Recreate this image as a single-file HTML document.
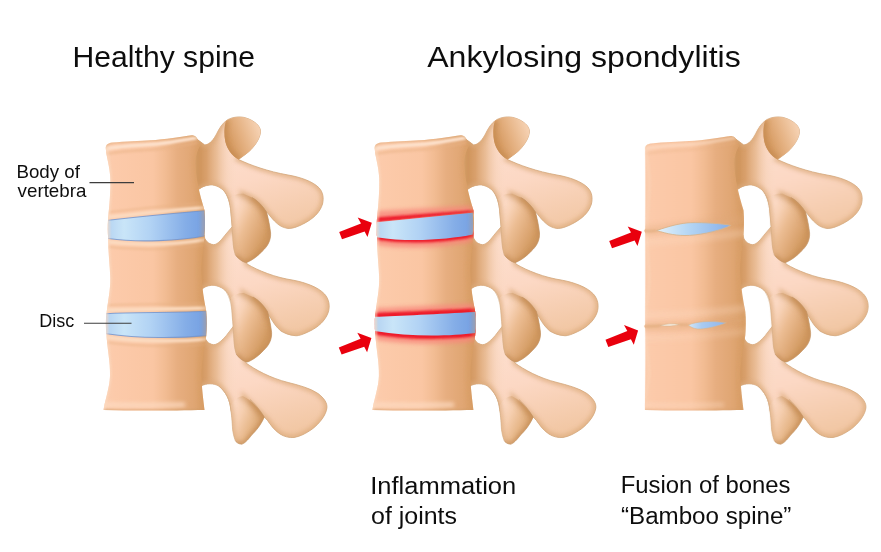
<!DOCTYPE html>
<html lang="en">
<head>
<meta charset="utf-8">
<title>Ankylosing spondylitis</title>
<style>
  html, body { margin: 0; padding: 0; background: #ffffff; }
  body { width: 881px; height: 552px; overflow: hidden; }
  svg { display: block; }
  text { font-family: "Liberation Sans", sans-serif; fill: #111111; }
</style>
</head>
<body>
<svg width="881" height="552" viewBox="0 0 881 552">
<defs>
  <!-- ===== gradients ===== -->
  <linearGradient id="gBody" gradientUnits="userSpaceOnUse" x1="104" y1="0" x2="206" y2="0">
    <stop offset="0" stop-color="#fbceb0"/>
    <stop offset="0.1" stop-color="#fccaaa"/>
    <stop offset="0.48" stop-color="#fac6a3"/>
    <stop offset="0.6" stop-color="#f2bc93"/>
    <stop offset="0.72" stop-color="#e7ae80"/>
    <stop offset="0.88" stop-color="#e0a673"/>
    <stop offset="1" stop-color="#d79c63"/>
  </linearGradient>
  <linearGradient id="gDisc" gradientUnits="userSpaceOnUse" x1="106" y1="0" x2="206" y2="0">
    <stop offset="0" stop-color="#b4d2f1"/>
    <stop offset="0.18" stop-color="#c9e5f8"/>
    <stop offset="0.45" stop-color="#b1d2f4"/>
    <stop offset="0.8" stop-color="#84ade7"/>
    <stop offset="1" stop-color="#739fe2"/>
  </linearGradient>
  <linearGradient id="gLens" gradientUnits="userSpaceOnUse" x1="117.5" y1="0" x2="192.5" y2="0">
    <stop offset="0" stop-color="#e4f2fa"/>
    <stop offset="0.4" stop-color="#b7d8f5"/>
    <stop offset="1" stop-color="#86aee8"/>
  </linearGradient>
  <linearGradient id="gTrans" gradientUnits="userSpaceOnUse" x1="250" y1="160" x2="235" y2="215">
    <stop offset="0" stop-color="#fbe0cb"/>
    <stop offset="0.5" stop-color="#f9d6bb"/>
    <stop offset="1" stop-color="#f0c096"/>
  </linearGradient>
  <linearGradient id="gLens2" gradientUnits="userSpaceOnUse" x1="149" y1="0" x2="188" y2="0">
    <stop offset="0" stop-color="#d3e7f8"/>
    <stop offset="0.35" stop-color="#a9cbf1"/>
    <stop offset="1" stop-color="#8fb4ea"/>
  </linearGradient>
  <linearGradient id="gT" x1="0.35" y1="0" x2="0.65" y2="1">
    <stop offset="0" stop-color="#fee1d2"/>
    <stop offset="0.5" stop-color="#fcd8c4"/>
    <stop offset="1" stop-color="#f1c6a2"/>
  </linearGradient>
  <linearGradient id="gKnob" gradientUnits="userSpaceOnUse" x1="226" y1="140" x2="258" y2="128">
    <stop offset="0" stop-color="#d2955a"/>
    <stop offset="0.45" stop-color="#e4b080"/>
    <stop offset="1" stop-color="#f5d0b0"/>
  </linearGradient>
  <linearGradient id="gInf" gradientUnits="userSpaceOnUse" x1="231" y1="214" x2="268" y2="232">
    <stop offset="0" stop-color="#fcdac5"/>
    <stop offset="0.18" stop-color="#f8d2b6"/>
    <stop offset="0.45" stop-color="#ecbd93"/>
    <stop offset="0.75" stop-color="#dfaa78"/>
    <stop offset="1" stop-color="#d39b62"/>
  </linearGradient>
  <linearGradient id="gInf3" gradientUnits="userSpaceOnUse" x1="231" y1="412" x2="262" y2="426">
    <stop offset="0" stop-color="#fcdac5"/>
    <stop offset="0.3" stop-color="#f6cfb0"/>
    <stop offset="0.65" stop-color="#e8b98c"/>
    <stop offset="1" stop-color="#d6a06a"/>
  </linearGradient>
  <linearGradient id="gPed" gradientUnits="userSpaceOnUse" x1="196" y1="0" x2="238" y2="0">
    <stop offset="0" stop-color="#cc9055"/>
    <stop offset="0.25" stop-color="#d9a06c"/>
    <stop offset="0.5" stop-color="#e7b88e" stop-opacity="0.85"/>
    <stop offset="0.75" stop-color="#f5d0b4" stop-opacity="0.45"/>
    <stop offset="1" stop-color="#fbdcc8" stop-opacity="0"/>
  </linearGradient>
  <filter id="soft" filterUnits="userSpaceOnUse" x="0" y="0" width="881" height="552"><feGaussianBlur stdDeviation="0.45"/></filter>
  <filter id="blur1" filterUnits="userSpaceOnUse" x="-20" y="-20" width="940" height="600"><feGaussianBlur stdDeviation="1"/></filter>
  <filter id="blur2" filterUnits="userSpaceOnUse" x="-20" y="-20" width="940" height="600"><feGaussianBlur stdDeviation="2"/></filter>
  <filter id="blur3" filterUnits="userSpaceOnUse" x="-20" y="-20" width="940" height="600"><feGaussianBlur stdDeviation="3.2"/></filter>

  <!-- ===== posterior elements (spine 1 coordinates) ===== -->
  <path id="pT1" d="M194,137 L204.8,145 C210,144.5 214,139 216.8,133.5 C219.5,128 222.5,123 227.5,119.8 C232.5,117 240,116 246,118 C254,120.5 261,126 260.5,132 C260,139 254,147 249,151.5 C245,155 241,157.5 238.5,159.5 C250,165 268,171.5 288,175 C300,177 313,181.5 319,187.8 C323,192 324,198 322.5,204 C320.5,211 315,217 308,221.2 C301,225.5 293,229 287.7,228.4 C283,227.6 280,226 277.5,223.8 C273,220 270.5,216.5 268.5,214 L267,212.5 C263,207 258,201 252,198 L243,194 L252,232 L233.5,238 C232.5,228 231.5,218 230.8,211.2 C230.3,204 228,195 223.5,190.4 C219,186 213,184.5 210,185 C205,185.5 202,187 200,188.6 L194,192 Z"/>
  <path id="pT2" d="M194,238 L204,235 C204.5,240 208,244 213.6,244.7 C218,244.5 222,239 226,234 L232,227 L240,240 L247,264 C258,270.5 275,277.5 293.8,280.3 C305,282.5 318,287 324.5,294 C329,299 330.5,306 328,313 C325,321 318,327 311,330.5 C304,334 299,336 295.5,335.7 C289,335.2 284,333 280.8,330.9 C276,327 273,322 271,318.6 C267,312 264,308 261.2,305.6 C257,302 253,299.5 249.8,297.4 L244,293.5 L253,331 L235,337 C234,328 233.5,318 232.6,310 C231.5,301 229,293 225.3,290.4 C221,286.5 215,285 211.7,285.3 C207,285.8 204.5,287 202.7,288.6 L194,292 Z"/>
  <path id="pT3" d="M194,337 L204.5,335 C205,340 208,344 213.6,344.7 C218.5,344.5 222.5,339.5 226.2,335.7 L234.4,325 L242,340 L246,363 C255,369.5 270,378 288.2,382.5 C298,385 310,388 318,393.5 C324,398 327.5,403 326.9,408 C326,415 320,423 312.3,429 C306,433.5 300,436.5 294,437.5 C289,438 284,436.5 280,434 C274,430 270,424 267.5,420.4 L264.3,417 L245,398 L250,428 L234,432 C233,420 232,414 230.8,409.8 C230,400 226,392 219,386.2 C214,383 206,383 200.9,386.2 L194,389 Z"/>
  <path id="pI1" d="M243,193.5 L252,197.5 C258,200.5 263,206.5 266.5,212 C268.5,219 270,227 270.6,233 C271,240 268,246 262.5,251 C258,256 253,259.5 249.8,261 C247,262.5 246,262.8 245.3,262.5 C241,261 237.5,258 235.3,254.7 C233,248 232.8,240 232.6,234.8 C232,225 231.3,218 230.8,211.2 C230.5,206 230,202 229.9,198.6 C233,195 238,193 243,193.5 Z"/>
  <path id="pI1e" d="M252,197.5 C258,200.5 263,206.5 266.5,212 C268.5,219 270,227 270.6,233 C271,240 268,246 262.5,251 C258,256 253,259.5 249.8,261 C247,262.5 246,262.8 245.3,262.5 C241,261 237.5,258 235.3,254.7"/>
  <path id="pI1l" d="M235.3,254.7 C233,248 232.8,240 232.6,234.8 C232,225 231.3,218 230.8,211.2 C230.3,204 228,195 223.5,190.4"/>
  <path id="pI3" d="M243,396 C250,399.5 258,407 264.3,417 C261,425 255,432 251.6,435.1 C248,440 244,444 241.6,444.2 C238,444 236,442 235.3,440.6 C233.5,436 233,432 232.6,429.7 C232,420 231.5,414 230.8,409.8 C231,403 236,396.5 243,396 Z"/>
  <path id="pI3e" d="M250,399.5 C258,407 261,412 264.3,417 C261,425 255,432 251.6,435.1 C248,440 244,444 241.6,444.2 C238,444 236,442 235.3,440.6"/>
  <path id="pI3l" d="M235.3,440.6 C233.5,436 233,432 232.6,429.7 C232,420 231.5,414 230.8,409.8 C230,400 226,392 219,386.2"/>
  <path id="pK1" d="M226,121 C232,117.5 240,116 246,118 C254,120.5 261,126 260.5,132 C260,139 254,147 249,151.5 C245,155 241,157.5 238.5,159.5 C232,156 227,149 225.3,141.5 C224,135 224,127 226,121 Z"/>
  <clipPath id="cT1"><use href="#pT1"/></clipPath>
  <clipPath id="cT2"><use href="#pT2"/></clipPath>
  <clipPath id="cT3"><use href="#pT3"/></clipPath>
  <clipPath id="cI1"><use href="#pI1"/></clipPath>
  <clipPath id="cI3"><use href="#pI3"/></clipPath>
  <clipPath id="cK1"><use href="#pK1"/></clipPath>

  <g id="inf1">
    <use href="#pI1" fill="url(#gInf)"/>
    <g clip-path="url(#cI1)">
      <use href="#pI1e" fill="none" stroke="#c48c55" stroke-width="4.5" filter="url(#blur2)" opacity="0.8"/>
      <path d="M238,189 L252,197.5 C258,200.5 263,206.5 266.5,212 L269,220" fill="none" stroke="#c68d54" stroke-width="9" filter="url(#blur3)" opacity="0.75"/>
      <use href="#pI1l" fill="none" stroke="#dcab7c" stroke-width="5" filter="url(#blur2)" opacity="0.8"/>
    </g>
    <use href="#pI1e" fill="none" stroke="#c29263" stroke-width="0.8" opacity="0.8"/>
    <use href="#pI1l" fill="none" stroke="#d4ab83" stroke-width="0.8" opacity="0.8"/>
  </g>

  <g id="post">
    <!-- vertebra 3 (bottom) -->
    <use href="#pT3" fill="url(#gT)" stroke="#cfa67c" stroke-width="0.8"/>
    <g clip-path="url(#cT3)">
      <rect x="190" y="320" width="52" height="130" fill="url(#gPed)"/>
      <use href="#pT3" fill="none" stroke="#dcab7c" stroke-width="5" filter="url(#blur2)" opacity="0.8"/>
    </g>
    <use href="#pI3" fill="url(#gInf3)"/>
    <g clip-path="url(#cI3)">
      <use href="#pI3e" fill="none" stroke="#c48c55" stroke-width="4" filter="url(#blur2)" opacity="0.8"/>
      <path d="M240,392 C250,399.5 258,407 264.3,417" fill="none" stroke="#c68d54" stroke-width="8" filter="url(#blur3)" opacity="0.7"/>
      <use href="#pI3l" fill="none" stroke="#dcab7c" stroke-width="5" filter="url(#blur2)" opacity="0.8"/>
    </g>
    <use href="#pI3e" fill="none" stroke="#c29263" stroke-width="0.8" opacity="0.8"/>
    <use href="#pI3l" fill="none" stroke="#d4ab83" stroke-width="0.8" opacity="0.8"/>
    <!-- vertebra 2 -->
    <use href="#pT2" fill="url(#gT)" stroke="#cfa67c" stroke-width="0.8"/>
    <g clip-path="url(#cT2)">
      <rect x="190" y="220" width="52" height="120" fill="url(#gPed)"/>
      <use href="#pT2" fill="none" stroke="#dcab7c" stroke-width="5" filter="url(#blur2)" opacity="0.8"/>
    </g>
    <use href="#inf1" x="1" y="99.5"/>
    <!-- vertebra 1 (top) -->
    <use href="#pT1" fill="url(#gT)" stroke="#cfa67c" stroke-width="0.8"/>
    <g clip-path="url(#cT1)">
      <rect x="190" y="110" width="52" height="120" fill="url(#gPed)"/>
      <use href="#pT1" fill="none" stroke="#dcab7c" stroke-width="5" filter="url(#blur2)" opacity="0.8"/>
    </g>
    <use href="#inf1"/>
    <use href="#pK1" fill="url(#gKnob)"/>
    <g clip-path="url(#cK1)">
      <path d="M226,121 C224,127 224,135 225.3,141.5 C227,149 232,156 238.5,159.5" fill="none" stroke="#c88e55" stroke-width="6" filter="url(#blur2)" opacity="0.9"/>
    </g>
  </g>

  <!-- bodies -->
  <path id="pB1" d="M105.8,148.5 C105.6,144.8 107.8,143.2 112,142.6 C125,141.4 140,140.9 150,140.3 C165,139.3 182,136.5 192,135.2 C195,135 197,137.6 198.2,140.6 L200.5,145 C196,152 195,160 195.5,166 C196,178 199,192 204.6,210.5 C180,212 140,214 108,220 C109.5,205 110.8,190 110.3,178 C109.8,166 106.3,157 105.8,148.5 Z"/>
  <path id="pB2" d="M108.5,239 C140,243 180,240 204.5,236 C203,250 201,262 201.5,274 C202,288 204,300 206.3,311.5 C180,313 135,312 106.5,314 C108,300 110.5,290 110.3,278 C110,266 108,252 108.5,239 Z"/>
  <path id="pB3" d="M106.5,334 C140,339 180,338 206,335.5 C204,350 201.5,362 201.5,374 C201.5,388 203.5,400 204.5,410 C175,410.5 135,411 103.5,410 C105.5,398 109.5,388 110,376 C110.5,362 107,348 106.5,334 Z"/>
  <path id="pD1" d="M108.2,220.3 C140,216.6 180,212.9 204.5,210.8 C205.2,219 205.2,228 204.5,236 C180,240.5 140,243 108.2,238.5 C107.5,232 107.5,226 108.2,220 Z"/>
  <path id="pD2" d="M106.3,313.6 C135,312.2 180,312.8 206.3,311.3 C207,319 207,328 206.3,335.6 C180,338.2 140,338.8 106.3,333.8 C105.6,327 105.6,320 106.3,313.6 Z"/>
  <!-- inflamed discs (spine 2, relative coords) -->
  <path id="pE1" d="M107.8,222.2 L203.8,212.7 C204.5,220 204.5,228 203.8,234.5 C180,239.5 140,242.5 107.8,237.2 C107.3,232 107.3,227 107.8,222.2 Z"/>
  <path id="pE2" d="M105.7,316.8 C130,316 170,314 206.5,312 C207.2,319 207.2,327 206.5,333.1 C180,336.5 140,337 105.7,331.1 C105.2,326 105.2,321 105.7,316.8 Z"/>
  <!-- silhouettes -->
  <path id="pSil" d="M105.8,148.5 C105.6,144.8 107.8,143.2 112,142.6 C125,141.4 140,140.9 150,140.3 C165,139.3 182,136.5 192,135.2 C195,135 197,137.6 198.2,140.6 L200.5,145 C196,152 195,160 195.5,166 C196,178 199,192 204.6,210.5 C205.2,219 205.2,228 204.5,236 C203,250 201,262 201.5,274 C202,288 204,300 206.3,311.5 C207,319 207,328 206.3,335.6 C204,350 201.5,362 201.5,374 C201.5,388 203.5,400 204.5,410 C175,410.5 135,411 103.5,410 C105.5,398 109.5,388 110,376 C110.5,362 107,348 106.5,334 C105.6,327 105.6,320 106.5,314 C108,300 110.5,290 110.3,278 C110,266 108,252 108.3,239 C107.5,232 107.5,226 108,220 C109.5,205 110.8,190 110.3,178 C109.8,166 106.3,157 105.8,148.5 Z"/>
  <path id="pSil3" d="M106.2,149 C106,145.5 108,144 112,143.4 C125,142.2 140,141.7 150,141.1 C165,140.1 182,137.2 192,135.9 C195,135.7 197,138.2 198.2,141.2 L200.5,145.5 C196,152 195,160 195.5,166 C196,178 199,192 204.6,210.5 C205.2,219 205.2,228 204.5,236 C203,250 201,262 201.5,274 C202,288 204,300 206.3,311.5 C207,319 207,328 206.3,335.6 C204,350 201.5,362 201.5,374 C201.5,388 203.5,400 204.5,410 C175,410.5 135,411 106,410 C106.3,390 106.6,350 106.3,328.5 L105.4,326.3 L106.3,324 C106.4,300 106.4,260 106.3,233 L105.4,230.8 L106.3,228.5 C106.4,200 106.4,170 106.2,149 Z"/>
  <clipPath id="cSil"><use href="#pSil"/></clipPath>
  <clipPath id="cSil3"><use href="#pSil3"/></clipPath>

  <!-- common body decoration (rim highlights) -->
  <g id="rimTop">
    <path d="M104,149.3 C112,147.3 135,145.3 150,144.5 C165,143.8 182,140.3 198,137.6" fill="none" stroke="#fde2cd" stroke-width="3.6" filter="url(#blur1)"/>
    <path d="M104,154.5 C112,152.5 135,150.5 150,149.7 C165,149 182,145.5 198,142.8" fill="none" stroke="#e9b285" stroke-width="2.5" filter="url(#blur1)" opacity="0.55"/>
    <path d="M105.8,148.5 C105.6,144.8 107.8,143.2 112,142.6 C125,141.4 140,140.9 150,140.3 C165,139.3 182,136.5 192,135.2 C195,135 197,137.6 198.2,140.6 L200.5,145" fill="none" stroke="#d8a673" stroke-width="1.2" filter="url(#blur1)" opacity="0.9"/>
    <path d="M100,404.6 C135,405.6 160,405.3 185,404.8" fill="none" stroke="#fddcc3" stroke-width="4.5" filter="url(#blur2)" opacity="0.85"/>
    <path d="M103.5,410 C135,411 175,410.5 204.5,410" fill="none" stroke="#d29d69" stroke-width="1.6" filter="url(#blur1)"/>
    <!-- left edge soft highlight / right edge darkening -->
    <path d="M107,146 C106.5,155 109.8,166 110.3,178 C110.8,190 109.5,205 108,220 L108.3,239 C108,252 110,266 110.3,278 C110.5,290 108,300 106.5,314 L106.5,334 C107,348 110.5,362 110,376 C109.5,388 105.5,398 103.5,410" fill="none" stroke="#fcdac0" stroke-width="3" filter="url(#blur1)" opacity="0.7"/>
    <path d="M200,145 C196,152 195,160 195.5,166 C196,178 199,192 204.6,210.5 L204.5,236 C203,250 201,262 201.5,274 C202,288 204,300 206.3,311.5 L206.3,335.6 C204,350 201.5,362 201.5,374 C201.5,388 203.5,400 204.5,410" fill="none" stroke="#d79c62" stroke-width="5" filter="url(#blur2)" opacity="0.45"/>
  </g>
  <!-- lips beside discs : healthy -->
  <g id="lips1" fill="none" stroke-width="3.6" filter="url(#blur1)">
    <path d="M100,218.3 C140,213.3 180,209.6 210,207" stroke="#fcdcc2" opacity="0.95"/>
    <path d="M100,213.3 C140,208.3 180,204.6 210,202" stroke="#e8b184" stroke-width="2" opacity="0.5"/>
    <path d="M100,241 C140,246.5 180,244 210,239" stroke="#fcdcc2" opacity="0.95"/>
    <path d="M100,246 C140,251.5 180,249 210,244" stroke="#e8b184" stroke-width="2" opacity="0.5"/>
    <path d="M100,310.4 C135,308.8 180,309.4 212,307.8" stroke="#fcdcc2" opacity="0.95"/>
    <path d="M100,305.4 C135,303.8 180,304.4 212,302.8" stroke="#e8b184" stroke-width="2" opacity="0.5"/>
    <path d="M100,336.4 C140,342.2 180,341.6 212,338.8" stroke="#fcdcc2" opacity="0.95"/>
    <path d="M100,341.4 C140,347.2 180,346.6 212,343.8" stroke="#e8b184" stroke-width="2" opacity="0.5"/>
  </g>
  <g id="discEdge" fill="none" stroke="#6f93cf" stroke-width="1.1" opacity="0.8">
    <path d="M108.2,220.3 C140,216.6 180,212.9 204.5,210.8"/>
    <path d="M108.2,238.5 C140,243 180,240.5 204.5,236"/>
    <path d="M106.3,313.6 C135,312.2 180,312.8 206.3,311.3"/>
    <path d="M106.3,333.8 C140,338.8 180,338.2 206.3,335.6"/>
  </g>

  <!-- arrow -->
  <path id="pArrow" d="M-32.6,9.3 L-29.8,16.5 L-7.2,8.7 L-4.3,14.2 L0,0 L-14.1,-5.4 L-10.8,0.6 Z"/>
</defs>

<rect x="0" y="0" width="881" height="552" fill="#ffffff"/>
<g filter="url(#soft)">

<!-- ================= spine 1 : healthy ================= -->
<g id="spine1">
  <use href="#post"/>
  <use href="#pSil" fill="url(#gBody)"/>
  <g clip-path="url(#cSil)">
    <use href="#lips1"/>
    <use href="#pD1" fill="url(#gDisc)"/>
    <use href="#pD2" fill="url(#gDisc)"/>
    <use href="#discEdge"/>
    <use href="#rimTop"/>
  </g>
</g>

<!-- ================= spine 2 : inflammation ================= -->
<g id="spine2" transform="translate(268.9,0)">
  <use href="#post"/>
  <use href="#pSil" fill="url(#gBody)"/>
  <g clip-path="url(#cSil)">
    <!-- red inflammation glow -->
    <g fill="none" stroke-linejoin="round">
      <g filter="url(#blur2)" opacity="0.8">
        <path d="M100,223 L210,212 L210,205.5 L100,211.5 Z" fill="#f8867a"/>
        <path d="M100,237 C140,243 180,240 210,233.5" stroke="#f8867a" stroke-width="14"/>
        <path d="M100,317 C130,316 170,314 210,311.8" stroke="#f8867a" stroke-width="17"/>
        <path d="M100,330.5 C140,337.2 180,336.7 210,332.7" stroke="#f8867a" stroke-width="16"/>
      </g>
      <g filter="url(#blur1)">
        <path d="M100,223 L210,212 L210,209.8 L100,218 Z" fill="#ee1a2a"/>
        <path d="M100,236.5 C140,242.6 180,239.6 210,233.6" stroke="#ee1a2a" stroke-width="5"/>
        <path d="M100,317 C130,316 170,314 210,311.8" stroke="#ee1a2a" stroke-width="7.5"/>
        <path d="M100,330.5 C140,337.2 180,336.7 210,332.7" stroke="#ee1a2a" stroke-width="6.5"/>
      </g>
    </g>
    <use href="#pE1" fill="url(#gDisc)"/>
    <use href="#pE2" fill="url(#gDisc)"/>
    <use href="#rimTop"/>
  </g>
</g>

<!-- ================= spine 3 : fusion ================= -->
<g id="spine3" transform="translate(538.9,0)">
  <use href="#post"/>
  <use href="#pSil3" fill="url(#gBody)"/>
  <g clip-path="url(#cSil3)">
    <use href="#rimTop" opacity="0.5"/>
    <!-- soft valleys around the fused joints -->
    <path d="M100,231.5 C130,229 170,224 210,218.5" fill="none" stroke="#e0a878" stroke-width="8" filter="url(#blur3)" opacity="0.4"/>
    <path d="M100,242 C130,241.5 170,238 210,232" fill="none" stroke="#fddcc4" stroke-width="5" filter="url(#blur3)" opacity="0.45"/>
    <path d="M100,327 C130,327.5 170,324.5 210,319" fill="none" stroke="#e0a878" stroke-width="8" filter="url(#blur3)" opacity="0.45"/>
    <path d="M100,315 C130,315.5 170,313 210,308" fill="none" stroke="#fddcc4" stroke-width="5" filter="url(#blur3)" opacity="0.45"/>
    <path d="M100,338 C130,338.5 170,336 210,331" fill="none" stroke="#fddcc4" stroke-width="4" filter="url(#blur3)" opacity="0.4"/>
    <!-- creases of the fused joints -->
    <path d="M105,230.8 C112,231.2 116,231 118,230.6" fill="none" stroke="#d9a572" stroke-width="1.3" filter="url(#blur1)"/>
    <path d="M192,225.8 C197,224 202,222 207,220" fill="none" stroke="#d9a572" stroke-width="1.2" filter="url(#blur1)" opacity="0.6"/>
    <path d="M105,326.3 C112,326.6 118,326.2 122,325.6" fill="none" stroke="#d9a572" stroke-width="1.3" filter="url(#blur1)"/>
    <path d="M140,324.6 L150,325" fill="none" stroke="#d9a572" stroke-width="1.2" filter="url(#blur1)"/>
    <path d="M187,322.8 C195,321.5 202,320 208,318.5" fill="none" stroke="#d9a572" stroke-width="1.2" filter="url(#blur1)" opacity="0.6"/>
  </g>
  <!-- remnants of discs -->
  <path d="M117.7,230.5 C130.5,226 142.5,223 151.5,222.7 C165.5,222.3 182.5,223.5 192.2,225.4 C182.5,230 165.5,234.5 150.5,235.4 C138.5,236 128.5,234 117.7,230.5 Z" fill="url(#gLens)" stroke="#d8b48c" stroke-width="0.9"/>
  <path d="M149.5,325 C157.5,321.5 170.5,320.5 187.5,322.7 C178.5,326.5 165.5,329.5 158.5,329 C154.5,328.5 151.5,327 149.5,325 Z" fill="url(#gLens2)" stroke="#d8b48c" stroke-width="0.6"/>
  <path d="M121.3,325.4 C127.5,323.6 134.5,323.4 140.5,324.5 C134.5,326.2 127.5,326.6 121.3,325.4 Z" fill="#f6efe6" stroke="#d8b48c" stroke-width="0.6"/>
</g>

<!-- ================= arrows ================= -->
<g fill="#e9060f">
  <use href="#pArrow" x="371.8" y="222.8"/>
  <use href="#pArrow" x="371.4" y="338.1"/>
  <use href="#pArrow" x="641.8" y="231.8"/>
  <use href="#pArrow" x="638.1" y="330.5"/>
</g>

<!-- ================= label lines ================= -->
<g stroke="#3c3c3c" stroke-width="1.1" fill="none">
  <line x1="89.5" y1="182.6" x2="134" y2="182.6"/>
  <line x1="84" y1="323.2" x2="131.5" y2="323.2"/>
</g>

<!-- ================= text ================= -->
<text x="72.6" y="67" font-size="29.6" textLength="182.5" lengthAdjust="spacingAndGlyphs">Healthy spine</text>
<text x="427.2" y="67" font-size="29.6" textLength="313.5" lengthAdjust="spacingAndGlyphs">Ankylosing spondylitis</text>
<text x="16.4" y="178.2" font-size="18.6" textLength="63.5" lengthAdjust="spacingAndGlyphs">Body of</text>
<text x="17.6" y="197" font-size="18.6" textLength="68.8" lengthAdjust="spacingAndGlyphs">vertebra</text>
<text x="39.2" y="327.4" font-size="18.6" textLength="35" lengthAdjust="spacingAndGlyphs">Disc</text>
<text x="370.2" y="493.7" font-size="23.3" textLength="146" lengthAdjust="spacingAndGlyphs">Inflammation</text>
<text x="371" y="524.2" font-size="23.3" textLength="86" lengthAdjust="spacingAndGlyphs">of joints</text>
<text x="620.8" y="493.3" font-size="23.3" textLength="169.6" lengthAdjust="spacingAndGlyphs">Fusion of bones</text>
<text x="621" y="524.2" font-size="23.3" textLength="170.4" lengthAdjust="spacingAndGlyphs">“Bamboo spine”</text>
</g>
</svg>
</body>
</html>
